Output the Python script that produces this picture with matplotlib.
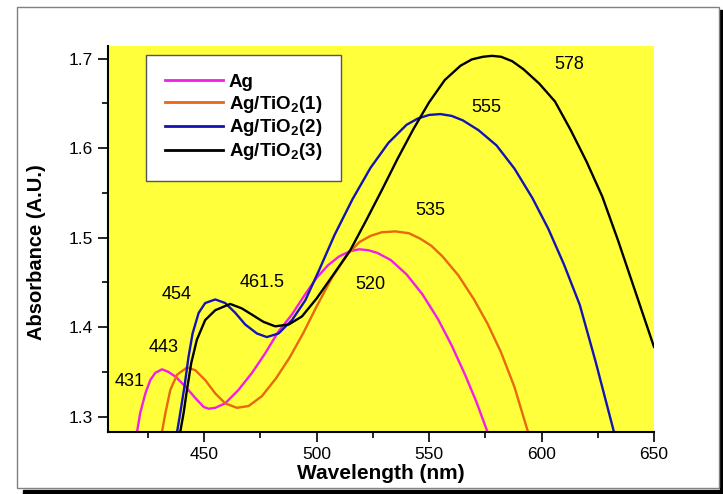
import matplotlib
matplotlib.use("Agg")
import matplotlib.pyplot as plt
from matplotlib.patches import Rectangle

plt.rcParams['font.family'] = ['Liberation Sans', 'DejaVu Sans']
plt.rcParams['mathtext.fontset'] = 'custom'
plt.rcParams['mathtext.rm'] = 'Liberation Sans'
plt.rcParams['mathtext.bf'] = 'Liberation Sans:bold'

# Absorbance spectra (wavelength nm, absorbance)
ag_x = [420.2, 421.6, 423.9, 426.1, 428.3, 431.3, 434.2, 437.2, 441.6, 446.1, 449.8,
        452.0, 455.0, 459.4, 465.3, 471.3, 477.2, 483, 489, 495, 500, 505, 510, 515,
        519, 523, 527, 533, 540, 547, 554, 560, 566, 571, 576]
ag_y = [1.283, 1.304, 1.326, 1.341, 1.349, 1.353, 1.350, 1.345, 1.334, 1.321, 1.311,
        1.309, 1.310, 1.315, 1.330, 1.349, 1.371, 1.395, 1.414, 1.437, 1.455, 1.469,
        1.479, 1.485, 1.487, 1.486, 1.483, 1.475, 1.459, 1.437, 1.409, 1.380, 1.347,
        1.317, 1.283]

t1_x = [431.3, 432.8, 435.0, 438.0, 442.4, 446.1, 450.5, 455.0, 459.4, 464.6, 469.8,
        475.7, 482, 488, 494, 500, 507, 514, 519, 524, 529, 535, 541, 546, 551, 556,
        563, 570, 576, 582, 588, 594]
t1_y = [1.283, 1.304, 1.330, 1.347, 1.355, 1.352, 1.341, 1.326, 1.315, 1.310, 1.312,
        1.323, 1.343, 1.366, 1.393, 1.423, 1.456, 1.482, 1.495, 1.502, 1.506, 1.507,
        1.505, 1.499, 1.491, 1.479, 1.458, 1.431, 1.404, 1.372, 1.333, 1.283]

t2_x = [438.0, 439.4, 441.3, 443.1, 444.9, 447.6, 450.5, 455.0, 459.4, 463.9, 468.3,
        473.5, 477.9, 483.1, 489.1, 495, 501, 508, 516, 524, 532, 540, 545, 550, 555,
        560, 565, 572, 580, 588, 596, 603, 610, 617, 624, 632]
t2_y = [1.283, 1.304, 1.334, 1.367, 1.393, 1.416, 1.427, 1.431, 1.427, 1.416, 1.403,
        1.393, 1.389, 1.393, 1.408, 1.430, 1.463, 1.503, 1.543, 1.578, 1.606, 1.626,
        1.633, 1.637, 1.638, 1.636, 1.631, 1.620, 1.603, 1.577, 1.544, 1.510, 1.470,
        1.425, 1.362, 1.285]

t3_x = [439.4, 440.9, 442.4, 444.3, 446.8, 450.5, 455.0, 461.6, 466.8, 471.3, 476.4,
        481.6, 487.6, 493.5, 500, 507, 515, 522, 529, 536, 543, 550, 557, 564, 569, 574,
        578, 582, 587, 592, 599, 606, 613, 620, 627, 634, 641, 650]
t3_y = [1.283, 1.304, 1.330, 1.360, 1.386, 1.408, 1.419, 1.426, 1.421, 1.414, 1.406,
        1.401, 1.403, 1.412, 1.432, 1.457, 1.486, 1.519, 1.553, 1.588, 1.621, 1.651,
        1.676, 1.692, 1.699, 1.702, 1.703, 1.702, 1.697, 1.688, 1.672, 1.652, 1.620,
        1.585, 1.546, 1.497, 1.445, 1.378]

labels = ['Ag', r'Ag/TiO$_\mathbf{2}$(1)', r'Ag/TiO$_\mathbf{2}$(2)', r'Ag/TiO$_\mathbf{2}$(3)']
colors = ['#F21EE6', '#E8680E', '#1414B4', '#000000']

# peak annotations: text, x, y
peak_text = ['431', '443', '454', '461.5', '520', '535', '555', '578']
peak_x = [416.8, 432.2, 437.7, 475.8, 524.0, 550.4, 575.6, 612.5]
peak_y = [1.339, 1.377, 1.436, 1.450, 1.448, 1.530, 1.645, 1.693]

fig = plt.figure(figsize=(7.23, 4.94), dpi=100)
fig.patch.set_facecolor('white')

# outer frame with a dark shadow, as in the source figure
for r in [Rectangle((23/723, 0), 700/723, 4/494, color='black'),
          Rectangle((720/723, 0), 3/723, 484/494, color='black'),
          Rectangle((17/723, 6/494), 702/723, 481/494, facecolor='white',
                    edgecolor='#808080', lw=1.0)]:
    r.set_transform(fig.transFigure)
    r.set_zorder(-5)
    fig.add_artist(r)

ax = fig.add_axes([108/723, 62/494, 546/723, 386/494])
ax.set_zorder(2)
ax.set_facecolor('#FFFF3C')

series = [(ag_x, ag_y), (t1_x, t1_y), (t2_x, t2_y), (t3_x, t3_y)]
for (xs, ys), c, lab in zip(series, colors, labels):
    ax.plot(xs, ys, color=c, lw=1.7, label=lab, solid_joinstyle='round')

for t, x, y in zip(peak_text, peak_x, peak_y):
    ax.text(x, y, t, fontsize=13, ha='center', va='center')

ax.set_xlim(407.3, 650)
ax.set_ylim(1.283, 1.714)
ax.set_xticks([450, 500, 550, 600, 650])
ax.set_xticks([425, 475, 525, 575, 625], minor=True)
ax.set_yticks([1.3, 1.4, 1.5, 1.6, 1.7])
ax.set_yticks([1.35, 1.45, 1.55, 1.65], minor=True)
ax.set_yticklabels(['1.3', '1.4', '1.5', '1.6', '1.7'])

for s in ['top', 'right']:
    ax.spines[s].set_visible(False)
for s in ['left', 'bottom']:
    ax.spines[s].set_linewidth(1.5)
ax.tick_params(which='major', direction='out', length=7, width=1.2, labelsize=12.5, pad=4)
ax.tick_params(which='minor', direction='out', length=4, width=1.2)

ax.set_xlabel('Wavelength (nm)', fontsize=15, fontweight='bold', labelpad=1)
ax.set_ylabel('Absorbance (A.U.)', fontsize=14.5, fontweight='bold')
ax.yaxis.set_label_coords(-0.114, 0.466)

leg = ax.legend(loc='upper left', bbox_to_anchor=(0.070, 0.977),
                prop={'weight': 'bold', 'size': 13.5}, handlelength=3.1,
                frameon=True, fancybox=False, borderpad=1.0, labelspacing=0.15,
                handletextpad=0.3, borderaxespad=0)
leg.get_frame().set_edgecolor('#555555')
leg.get_frame().set_linewidth(1.0)
leg.get_frame().set_facecolor('white')
leg.get_frame().set_alpha(1.0)
for line in leg.get_lines():
    line.set_linewidth(2.0)

fig.savefig('out.png', dpi=100)
